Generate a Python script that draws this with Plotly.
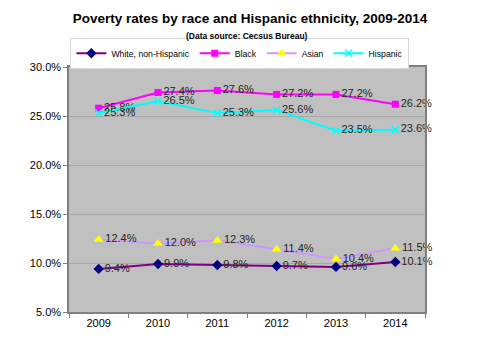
import plotly.graph_objects as go

years = ["2009", "2010", "2011", "2012", "2013", "2014"]
white = [9.4, 9.9, 9.8, 9.7, 9.6, 10.1]
black = [25.8, 27.4, 27.6, 27.2, 27.2, 26.2]
asian = [12.4, 12.0, 12.3, 11.4, 10.4, 11.5]
hispanic = [25.3, 26.5, 25.3, 25.6, 23.5, 23.6]

series = [
    ("White, non-Hispanic", white, "#800080", dict(symbol="diamond", color="#000080", size=8)),
    ("Black", black, "#ff00ff", dict(symbol="square", color="#ff00ff", size=7)),
    ("Asian", asian, "#cc99ff", dict(symbol="triangle-up", color="#ffff00", size=9)),
    ("Hispanic", hispanic, "#00ffff", dict(symbol="x-thin", color="#00ffff", size=7,
                                            line=dict(color="#00ffff", width=1.5))),
]

fig = go.Figure()
for name, vals, lc, mk in series:
    fig.add_trace(go.Scatter(
        x=years, y=vals, name=name, mode="lines+markers+text",
        line=dict(color=lc, width=2),
        marker=mk,
        text=[f"{v:.1f}%" for v in vals],
        textposition="middle right",
        textfont=dict(family="Liberation Sans, Arial", size=11, color="#262626"),
        cliponaxis=False,
    ))

fig.update_layout(
    width=500, height=341,
    margin=dict(l=69, r=75, t=67, b=25),
    paper_bgcolor="white",
    plot_bgcolor="#c0c0c0",
    font=dict(family="Liberation Sans, Arial", size=11, color="#000000"),
    title=dict(
        text="<b>Poverty rates by race and Hispanic ethnicity, 2009-2014</b>",
        x=0.5, xanchor="center", y=1 - 18 / 341, yref="container", yanchor="middle",
        font=dict(size=13.5, color="#000000"),
    ),
    annotations=[dict(
        text="<b>(Data source: Cecsus Bureau)</b>",
        xref="paper", yref="paper", x=0.5, y=1 + (67 - 35) / 249,
        xanchor="center", yanchor="middle", showarrow=False,
        font=dict(size=8.5, color="#000000"),
    )],
    legend=dict(
        orientation="h", x=0.48, xanchor="center", y=1 + (67 - 53) / 249, yanchor="middle",
        bgcolor="white", bordercolor="#d8d8d8", borderwidth=1,
        font=dict(size=8.7), itemwidth=30, tracegroupgap=0,
    ),
    showlegend=True,
)

fig.update_xaxes(
    type="category", range=[-0.5, 5.5],
    showgrid=False, showline=True, linecolor="#808080", linewidth=1.5, mirror=True,
    ticks="outside", tickson="boundaries", ticklen=4, tickcolor="#808080",
    tickfont=dict(size=11), zeroline=False,
)
fig.update_yaxes(
    range=[5, 30], dtick=5, tickformat=".1f", ticksuffix="%",
    showgrid=True, gridcolor="#a8a8a8", gridwidth=1,
    showline=True, linecolor="#808080", linewidth=1.5, mirror=True,
    ticks="outside", ticklen=4, tickcolor="#808080",
    tickfont=dict(size=11), zeroline=False,
)

fig.write_html("out.html")
